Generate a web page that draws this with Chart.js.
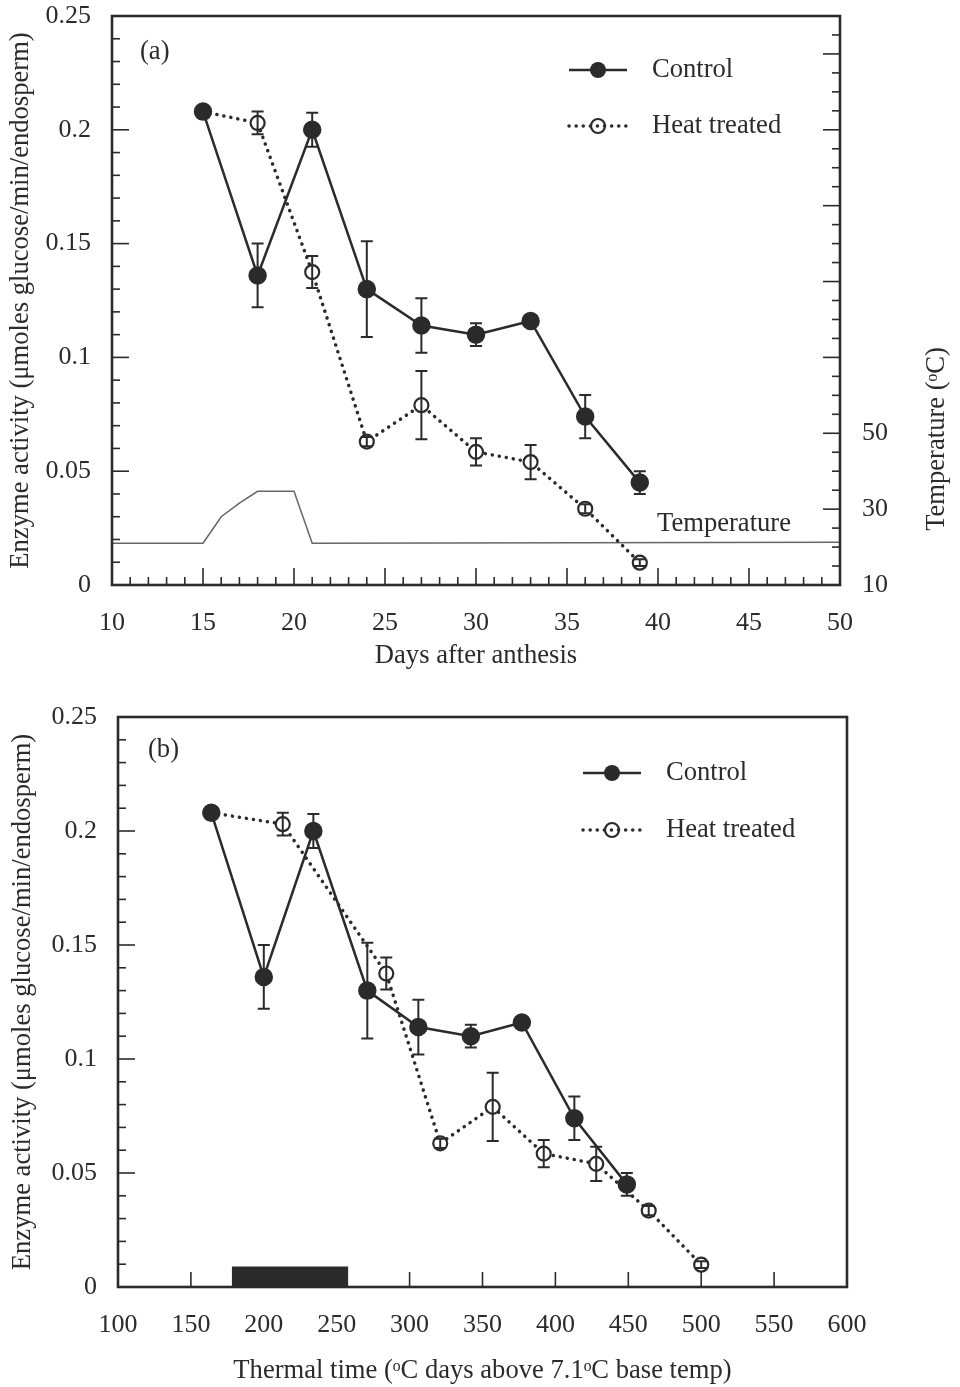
<!DOCTYPE html>
<html>
<head>
<meta charset="utf-8">
<script src="https://cdn.jsdelivr.net/npm/chart.js@4.4.0/dist/chart.umd.min.js"></script>
<style>
html, body { margin: 0; padding: 0; background: #fff; }
.wrap { position: absolute; left: 0; width: 960px; }
#top { top: 0; height: 690px; }
#bottom { top: 690px; height: 697px; }
</style>
</head>
<body>
<div class="wrap" id="top"><canvas id="chartA"></canvas></div>
<div class="wrap" id="bottom"><canvas id="chartB"></canvas></div>
<script>
// sampling days and thermal time for each harvest
const days = [15, 18, 21, 24, 27, 30, 33, 36, 39];
const thermalControl = [164, 200, 234, 271, 306, 342, 377, 413, 449];
const thermalHeat = [164, 213, 284, 321, 357, 392, 428, 464, 500];

// enzyme activity (umoles glucose/min/endosperm) and error half-widths
const control = [0.208, 0.136, 0.200, 0.130, 0.114, 0.110, 0.116, 0.074, 0.045];
const controlErr = [0, 0.014, 0.0075, 0.021, 0.012, 0.005, 0, 0.0095, 0.005];
const heat = [0.208, 0.203, 0.1375, 0.063, 0.079, 0.0585, 0.054, 0.0335, 0.0098];
const heatErr = [0, 0.005, 0.007, 0.002, 0.015, 0.006, 0.0075, 0.002, 0.0015];

// temperature trace (panel a)
const tempDays = [10, 15, 16, 17, 18, 20, 21, 50];
const tempValues = [21, 21, 28, 31.6, 34.7, 34.7, 21, 21.3];

// heat treatment period in thermal time (panel b)
const heatPeriod = [178, 258];
const heatPeriodHeight = [0.009, 0.009];

// tick labels
const activityLabels = [0, 0.05, 0.1, 0.15, 0.2, 0.25];
const tempLabels = [10, 30, 50];

const ink = '#2b2b2b';
const serif = "'Liberation Serif', 'Times New Roman', serif";
const font = { family: serif, size: 26 };
const titleFont = { family: serif, size: 26.6 };

function near(v, step) { return Math.abs(v / step - Math.round(v / step)) < 1e-6; }
function fmt(v) { return String(Math.round(v * 100) / 100); }
function points(xs, ys) { return xs.map((x, i) => ({ x: x, y: ys[i] })); }

// keep the plot box where it is, whatever the tick labels want
function noPad(s) {
    s.paddingTop = 0; s.paddingBottom = 0;
    s.paddingLeft = 0; s.paddingRight = 0;
}

// error bars drawn through the chart's own y scale
const errorBars = {
    id: 'errorBars',
    afterDatasetsDraw(chart) {
        const ctx = chart.ctx;
        const y = chart.scales.y;
        ctx.save();
        ctx.strokeStyle = ink;
        ctx.lineWidth = 2;
        chart.data.datasets.forEach((ds, i) => {
            if (!ds.errors) return;
            chart.getDatasetMeta(i).data.forEach((pt, j) => {
                const e = ds.errors[j];
                if (!e) return;
                const v = ds.data[j].y;
                const top = y.getPixelForValue(v + e);
                const bot = y.getPixelForValue(v - e);
                ctx.beginPath();
                ctx.moveTo(pt.x, top); ctx.lineTo(pt.x, bot);
                ctx.moveTo(pt.x - 6, top); ctx.lineTo(pt.x + 6, top);
                ctx.moveTo(pt.x - 6, bot); ctx.lineTo(pt.x + 6, bot);
                ctx.stroke();
            });
        });
        ctx.restore();
    }
};

// box around the plot with inward pointing ticks
function framePlugin(tickSpec) {
    return {
        id: 'frame',
        afterDraw(chart) {
            const ctx = chart.ctx;
            const a = chart.chartArea;
            ctx.save();
            ctx.strokeStyle = ink;
            ctx.lineWidth = 1.6;
            tickSpec.forEach(spec => {
                const s = chart.scales[spec.axis];
                s.ticks.forEach(t => {
                    if (spec.skip && spec.skip(t.value)) return;
                    const len = spec.isMajor(t.value) ? spec.major : spec.minor;
                    const p = s.getPixelForValue(t.value);
                    ctx.beginPath();
                    if (spec.side === 'bottom') { ctx.moveTo(p, a.bottom); ctx.lineTo(p, a.bottom - len); }
                    else if (spec.side === 'left') { ctx.moveTo(a.left, p); ctx.lineTo(a.left + len, p); }
                    else { ctx.moveTo(a.right, p); ctx.lineTo(a.right - len, p); }
                    ctx.stroke();
                });
            });
            ctx.lineWidth = 2.6;
            ctx.strokeRect(a.left, a.top, a.right - a.left, a.bottom - a.top);
            ctx.restore();
        }
    };
}

// key in the upper right, plus panel letters and free text
function notesPlugin(key, notes) {
    return {
        id: 'notes',
        afterDraw(chart) {
            const ctx = chart.ctx;
            const ds = chart.data.datasets;
            ctx.save();
            ctx.font = '26.6px ' + serif;
            ctx.fillStyle = ink;
            ctx.strokeStyle = ink;
            ctx.textBaseline = 'middle';
            const mid = (key.x1 + key.x2) / 2;
            // control
            ctx.lineWidth = 2.5;
            ctx.beginPath();
            ctx.moveTo(key.x1, key.rows[0]); ctx.lineTo(key.x2, key.rows[0]);
            ctx.stroke();
            ctx.beginPath();
            ctx.arc(mid, key.rows[0], 8, 0, Math.PI * 2);
            ctx.fill();
            ctx.fillText(ds[0].label, key.text, key.rows[0]);
            // heat treated
            ctx.lineWidth = 3.5;
            ctx.lineCap = 'round';
            ctx.setLineDash([0.1, 7]);
            ctx.beginPath();
            ctx.moveTo(key.x1, key.rows[1]); ctx.lineTo(key.x2 + 4, key.rows[1]);
            ctx.stroke();
            ctx.setLineDash([]);
            ctx.lineWidth = 2.2;
            ctx.beginPath();
            ctx.arc(mid, key.rows[1], 7, 0, Math.PI * 2);
            ctx.stroke();
            ctx.fillText(ds[1].label, key.text, key.rows[1]);
            // other texts
            notes.forEach(n => {
                ctx.save();
                ctx.translate(n.x, n.y);
                if (n.rotate) ctx.rotate(n.rotate);
                ctx.textAlign = n.align || 'left';
                ctx.fillText(n.text, 0, 0);
                ctx.restore();
            });
            ctx.restore();
        }
    };
}

function activityAxis(width, titlePad) {
    return {
        type: 'linear',
        position: 'left',
        min: 0,
        max: 0.25,
        ticks: {
            stepSize: 0.01,
            autoSkip: false,
            padding: 21,
            color: ink,
            font: font,
            callback: v => activityLabels.some(l => Math.abs(l - v) < 1e-6) ? fmt(v) : ''
        },
        grid: { display: false, drawTicks: false },
        border: { display: false },
        title: {
            display: true,
            text: 'Enzyme activity (\u03bcmoles glucose/min/endosperm)',
            color: ink,
            font: titleFont,
            padding: { top: titlePad, bottom: 0 }
        },
        afterFit: s => { s.width = width; noPad(s); }
    };
}

const common = {
    responsive: true,
    maintainAspectRatio: false,
    animation: false,
    events: [],
    plugins: { legend: { display: false }, tooltip: { enabled: false } }
};

// panel (a): days after anthesis
new Chart(document.getElementById('chartA'), {
    type: 'line',
    data: {
        datasets: [
            {
                label: 'Control',
                data: points(days, control),
                errors: controlErr,
                yAxisID: 'y',
                borderColor: ink,
                borderWidth: 2.5,
                pointRadius: 8,
                pointBackgroundColor: ink,
                pointBorderColor: ink,
                tension: 0
            },
            {
                label: 'Heat treated',
                data: points(days, heat),
                errors: heatErr,
                yAxisID: 'y',
                borderColor: ink,
                borderWidth: 3.5,
                borderDash: [0.1, 7],
                borderCapStyle: 'round',
                pointRadius: heat.map((v, i) => i === 0 ? 0 : 7),
                pointBackgroundColor: '#fff',
                pointBorderColor: ink,
                pointBorderWidth: 2.2,
                tension: 0
            },
            {
                label: 'Temperature',
                data: points(tempDays, tempValues),
                yAxisID: 'y2',
                borderColor: '#666',
                borderWidth: 1.5,
                pointRadius: 0,
                tension: 0
            }
        ]
    },
    options: Object.assign({}, common, {
        layout: { padding: { top: 16, left: 0, right: 0, bottom: 0 } },
        scales: {
            x: {
                type: 'linear',
                min: 10,
                max: 50,
                ticks: {
                    stepSize: 1,
                    autoSkip: false,
                    maxRotation: 0,
                    padding: 23,
                    color: ink,
                    font: font,
                    callback: v => near(v, 5) ? String(v) : ''
                },
                grid: { display: false, drawTicks: false },
                border: { display: false },
                title: {
                    display: true,
                    text: 'Days after anthesis',
                    color: ink,
                    font: titleFont,
                    padding: { top: 0, bottom: 18 }
                },
                afterFit: s => { s.height = 105; noPad(s); }
            },
            y: activityAxis(112, 5),
            y2: {
                type: 'linear',
                position: 'right',
                min: 10,
                max: 160,
                ticks: {
                    stepSize: 5,
                    autoSkip: false,
                    padding: 22,
                    color: ink,
                    font: font,
                    callback: v => tempLabels.includes(v) ? String(v) : ''
                },
                grid: { display: false, drawTicks: false },
                border: { display: false },
                afterFit: s => { s.width = 120; noPad(s); }
            }
        }
    }),
    plugins: [
        errorBars,
        framePlugin([
            { axis: 'x', side: 'bottom', major: 17, minor: 8, isMajor: v => near(v, 5) },
            { axis: 'y', side: 'left', major: 17, minor: 8, isMajor: v => near(v, 0.05) },
            { axis: 'y2', side: 'right', major: 17, minor: 8, isMajor: v => near(v - 10, 20) }
        ]),
        notesPlugin(
            { x1: 569, x2: 627, text: 652, rows: [70, 126] },
            [
                { text: '(a)', x: 140, y: 52 },
                { text: 'Temperature', x: 657, y: 524 },
                { text: 'Temperature (\u1d52C)', x: 937, y: 439, align: 'center', rotate: -Math.PI / 2 }
            ]
        )
    ]
});

// panel (b): thermal time
new Chart(document.getElementById('chartB'), {
    type: 'line',
    data: {
        datasets: [
            {
                label: 'Control',
                data: points(thermalControl, control),
                errors: controlErr,
                borderColor: ink,
                borderWidth: 2.5,
                pointRadius: 8,
                pointBackgroundColor: ink,
                pointBorderColor: ink,
                tension: 0
            },
            {
                label: 'Heat treated',
                data: points(thermalHeat, heat),
                errors: heatErr,
                borderColor: ink,
                borderWidth: 3.5,
                borderDash: [0.1, 7],
                borderCapStyle: 'round',
                pointRadius: heat.map((v, i) => i === 0 ? 0 : 7),
                pointBackgroundColor: '#fff',
                pointBorderColor: ink,
                pointBorderWidth: 2.2,
                tension: 0
            },
            {
                label: 'Heat period',
                data: points(heatPeriod, heatPeriodHeight),
                fill: 'origin',
                backgroundColor: ink,
                borderWidth: 0,
                pointRadius: 0
            }
        ]
    },
    options: Object.assign({}, common, {
        layout: { padding: { top: 27, left: 0, right: 113, bottom: 0 } },
        scales: {
            x: {
                type: 'linear',
                min: 100,
                max: 600,
                ticks: {
                    stepSize: 50,
                    autoSkip: false,
                    maxRotation: 0,
                    padding: 23,
                    color: ink,
                    font: font
                },
                grid: { display: false, drawTicks: false },
                border: { display: false },
                title: {
                    display: true,
                    text: 'Thermal time (\u1d52C days above 7.1\u1d52C base temp)',
                    color: ink,
                    font: titleFont,
                    padding: { top: 0, bottom: 0 }
                },
                afterFit: s => { s.height = 100; noPad(s); }
            },
            y: activityAxis(118, 7)
        }
    }),
    plugins: [
        errorBars,
        framePlugin([
            { axis: 'x', side: 'bottom', major: 15, minor: 15, isMajor: v => true, skip: v => v <= 100 || v >= 600 },
            { axis: 'y', side: 'left', major: 17, minor: 8, isMajor: v => near(v, 0.05) }
        ]),
        notesPlugin(
            { x1: 583, x2: 641, text: 666, rows: [773 - 690, 830 - 690] },
            [
                { text: '(b)', x: 148, y: 750 - 690 }
            ]
        )
    ]
});
</script>
</body>
</html>
